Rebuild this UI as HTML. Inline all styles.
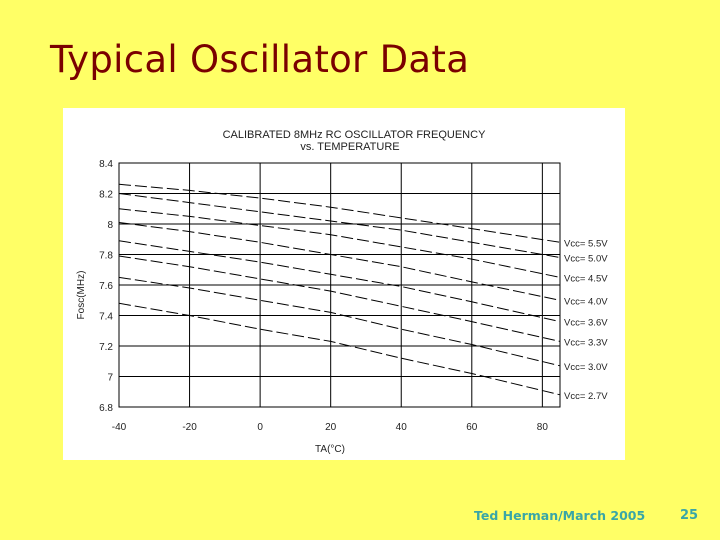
<!DOCTYPE html>
<html><head><meta charset="utf-8"><style>
html,body{margin:0;padding:0}
body{width:720px;height:540px;background:#ffff66;position:relative;overflow:hidden;font-family:"DejaVu Sans","Liberation Sans",sans-serif}
#title{position:absolute;left:50px;top:38px;font-size:37px;color:#7a0000;letter-spacing:0.3px;white-space:nowrap}
#foot{position:absolute;left:474px;top:508px;font-size:12.5px;font-weight:bold;color:#3aa6a6;white-space:nowrap}
#num{position:absolute;left:680px;top:508px;font-size:13px;font-weight:bold;color:#3aa6a6}
#box{position:absolute;left:63px;top:108px;width:562px;height:352px;background:#fff}
</style></head><body>
<div id="title">Typical Oscillator Data</div>
<div id="box"></div>
<svg id="chart" width="720" height="540" style="position:absolute;left:0;top:0"></svg>
<div id="foot">Ted Herman/March 2005</div>
<div id="num">25</div>
<script>
const temps=[-40,-20,0,20,40,60,85];
const xTicks=[-40,-20,0,20,40,60,80];
const yTicks=[6.8,7,7.2,7.4,7.6,7.8,8,8.2,8.4];
const seriesLabels=["5.5V","5.0V","4.5V","4.0V","3.6V","3.3V","3.0V","2.7V"];
const v55=[8.26,8.22,8.17,8.11,8.04,7.97,7.88];
const v50=[8.20,8.14,8.08,8.02,7.96,7.88,7.78];
const v45=[8.10,8.05,7.99,7.93,7.85,7.77,7.65];
const v40=[8.01,7.95,7.88,7.80,7.72,7.62,7.50];
const v36=[7.89,7.82,7.75,7.67,7.59,7.49,7.36];
const v33=[7.79,7.72,7.64,7.56,7.46,7.36,7.23];
const v30=[7.65,7.58,7.50,7.42,7.31,7.21,7.07];
const v27=[7.48,7.40,7.31,7.23,7.12,7.02,6.88];
const series=[v55,v50,v45,v40,v36,v33,v30,v27];
const NS="http://www.w3.org/2000/svg";
const svg=document.getElementById('chart');
const L=119,R=560,T=163,B=407;
const X=t=>L+(t+40)/125*(R-L);
const Y=v=>B-(v-6.8)/1.6*(B-T);
function mk(tag,attrs,parent){const e=document.createElementNS(NS,tag);for(const k in attrs)e.setAttribute(k,attrs[k]);(parent||svg).appendChild(e);return e;}
const ft='font-family:"Liberation Sans",sans-serif;font-size:10px;fill:#222';
let t=mk('text',{x:354,y:138,'text-anchor':'middle',style:ft+';font-size:11px'});t.textContent='CALIBRATED 8MHz RC OSCILLATOR FREQUENCY';

t=mk('text',{x:350,y:150,'text-anchor':'middle',style:ft+';font-size:11px'});t.textContent='vs. TEMPERATURE';

const fr=mk('rect',{x:L,y:T,width:R-L,height:B-T,fill:'none',stroke:'#000','stroke-width':1});

yTicks.forEach(v=>{
 const g=mk('line',{x1:L,x2:R,y1:Y(v),y2:Y(v),stroke:'#000','stroke-width':1});
 
 const tx=mk('text',{x:L-6,y:Y(v)+4,'text-anchor':'end',style:ft});tx.textContent=String(v);
 
});
xTicks.forEach(v=>{
 const g=mk('line',{x1:X(v),x2:X(v),y1:T,y2:B,stroke:'#000','stroke-width':1});
 
 const tx=mk('text',{x:X(v),y:B+23,'text-anchor':'middle',style:ft});tx.textContent=String(v);
 
});
series.forEach((s,i)=>{
 const d=s.map((v,j)=>(j?'L':'M')+X(temps[j]).toFixed(1)+','+Y(v).toFixed(1)).join(' ');
 const p=mk('path',{d:d,fill:'none',stroke:'#000','stroke-width':1,'stroke-dasharray':'12,4'});
 
 const tx=mk('text',{x:R+4,y:Y(s[s.length-1])+4,style:ft+';font-size:9.5px'});
 tx.textContent='Vcc= '+seriesLabels[i];
 
});
t=mk('text',{x:330,y:452,'text-anchor':'middle',style:ft});t.textContent='TA(°C)';

t=mk('text',{x:84,y:295,'text-anchor':'middle',transform:'rotate(-90 84 295)',style:ft});t.textContent='Fosc(MHz)';

</script>
</body></html>
